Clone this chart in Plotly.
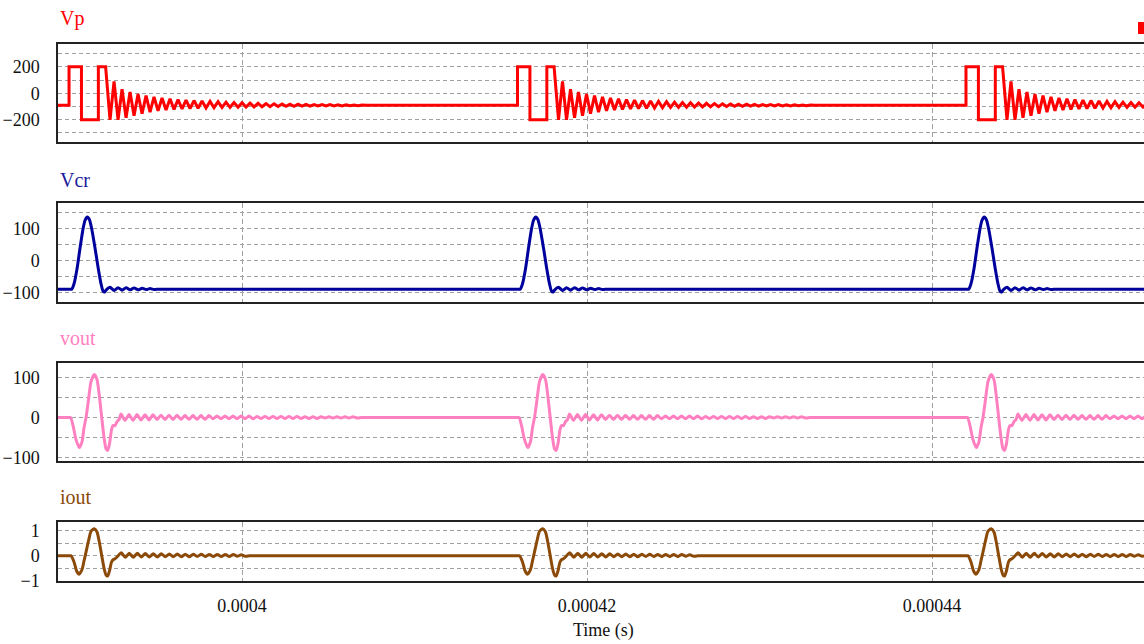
import plotly.graph_objects as go

# ---------------- data ----------------
x_range_us = [389.33, 452.29]
burst_starts_us = [389.97, 415.97, 441.97]
ring_half_us = 0.2319          # half period of the ringing

# Vp: pulse pair then ringing
vp_base = -90
vp_rel_us = [0.0, 0.0, 0.72, 0.72, 1.70, 1.70, 2.12]
vp_vals = [-90, 200, 200, -200, -200, 200, 200]
vp_ring_start_us = 2.377
vp_ring_troughs = [-200, -200, -185, -170, -155, -142, -133, -127, -122, -118, -115, -113,
                   -111, -109, -107, -106, -105, -104, -103, -102, -101, -100, -99, -98,
                   -97, -97, -96, -96, -95, -95, -94, -94]
vp_ring_peaks = [90, 30, 10, -5, -18, -28, -36, -42, -47, -51, -55, -58,
                 -61, -64, -67, -70, -72, -74, -76, -78, -80, -81, -82, -83,
                 -84, -85, -86, -86, -87, -87, -88, -88]

# Vcr: bell-shaped pulse then small ripple
vcr_base = -89
vcr_rel_us = [0.157, 0.29, 0.464, 0.638, 0.812, 0.928, 1.061, 1.188, 1.333, 1.507,
              1.681, 1.855, 1.971, 2.058, 2.145]
vcr_vals = [-89, -72, -25, 40, 100, 127, 137, 128, 95, 40, -20, -72, -95, -98, -92]
vcr_ring_start_us = 2.38
vcr_ring_peaks = [-83, -84, -84, -85, -86, -87]
vcr_ring_troughs = [-93, -92, -91, -91, -90, -90]

# vout
vout_base = 0
vout_rel_us = [0.099, 0.232, 0.406, 0.597, 0.754, 0.870, 0.986, 1.130, 1.275, 1.467,
               1.623, 1.768, 1.896, 2.029, 2.145, 2.243, 2.348, 2.464, 2.551, 2.667,
               2.783, 2.899]
vout_vals = [0, -20, -55, -75, -60, -25, 0, 45, 90, 108, 95, 50, 0, -50, -78, -82, -65,
             -30, -20, -20, -10, -5]
vout_ring_start_us = 3.014
vout_ring_peaks = [9, 8, 8, 7, 7, 6, 6, 6, 5, 5, 5, 5, 4, 4, 4, 4, 4, 3, 3, 3, 3, 3, 3,
                   2, 2, 2, 2, 2, 2, 2]
vout_ring_troughs = [-7, -7, -6, -6, -5, -5, -5, -4, -4, -4, -4, -3, -3, -3, -3, -3, -3,
                     -2, -2, -2, -2, -2, -2, -2, -2, -1, -1, -1, -1, -1]

# iout
iout_base = 0
iout_rel_us = [0.116, 0.29, 0.435, 0.58, 0.754, 0.87, 0.986, 1.13, 1.275, 1.467, 1.623,
               1.768, 1.896, 2.029, 2.145, 2.243, 2.348, 2.464, 2.57, 2.667, 2.783]
iout_vals = [0, -0.25, -0.6, -0.74, -0.55, -0.2, 0.15, 0.6, 0.98, 1.08, 0.95, 0.5, 0.0,
             -0.5, -0.77, -0.81, -0.6, -0.25, -0.15, -0.12, -0.05]
iout_ring_start_us = 3.03
iout_ring_peaks = [0.12, 0.10, 0.10, 0.09, 0.08, 0.08, 0.07, 0.07, 0.06, 0.06, 0.06,
                   0.05, 0.05, 0.05, 0.05, 0.04]
iout_ring_troughs = [-0.06, -0.06, -0.05, -0.05, -0.05, -0.04, -0.04, -0.04, -0.04,
                     -0.03, -0.03, -0.03, -0.03, -0.03, -0.02, -0.02]

x_tick_vals = [0.0004, 0.00042, 0.00044]
x_tick_text = ["0.0004", "0.00042", "0.00044"]


# ---------------- build traces ----------------
def interleave(a, b):
    out = []
    for p, q in zip(a, b):
        out += [p, q]
    return out


GUARD = 0.05  # short flat hold so the smoothed line stays flat between bursts


def build(rel_t, vals, ring_start, ring_vals, base):
    xmin, xmax = x_range_us
    xs, ys = [xmin * 1e-6], [base]
    tail_end = None
    for s in burst_starts_us:
        pts_t = [rel_t[0] - GUARD] + list(rel_t)
        pts_v = [base] + list(vals)
        for i, v in enumerate(ring_vals):
            pts_t.append(ring_start + i * ring_half_us)
            pts_v.append(v)
        end = ring_start + len(ring_vals) * ring_half_us
        pts_t += [end, end + GUARD]
        pts_v += [base, base]
        for t, v in zip(pts_t, pts_v):
            xs.append((s + t) * 1e-6)
            ys.append(v)
        tail_end = s + pts_t[-1]
    if tail_end < xmax:
        xs.append(xmax * 1e-6)
        ys.append(base)
    return xs, ys


vp_x, vp_y = build(vp_rel_us, vp_vals, vp_ring_start_us,
                   interleave(vp_ring_troughs, vp_ring_peaks), vp_base)
vcr_x, vcr_y = build(vcr_rel_us, vcr_vals, vcr_ring_start_us,
                     interleave(vcr_ring_peaks, vcr_ring_troughs), vcr_base)
vout_x, vout_y = build(vout_rel_us, vout_vals, vout_ring_start_us,
                       interleave(vout_ring_peaks, vout_ring_troughs), vout_base)
iout_x, iout_y = build(iout_rel_us, iout_vals, iout_ring_start_us,
                       interleave(iout_ring_peaks, iout_ring_troughs), iout_base)

C_VP = "#ff0000"
C_VCR = "#00009c"
C_VOUT = "#ff80c0"
C_IOUT = "#8b4a08"
LW = 3

fig = go.Figure()
fig.add_trace(go.Scatter(x=vp_x, y=vp_y, mode="lines", line=dict(color=C_VP, width=LW),
                         xaxis="x", yaxis="y", showlegend=False))
fig.add_trace(go.Scatter(x=vcr_x, y=vcr_y, mode="lines",
                         line=dict(color=C_VCR, width=LW, shape="spline", smoothing=0.6),
                         xaxis="x2", yaxis="y2", showlegend=False))
fig.add_trace(go.Scatter(x=vout_x, y=vout_y, mode="lines",
                         line=dict(color=C_VOUT, width=LW, shape="spline", smoothing=0.6),
                         xaxis="x3", yaxis="y3", showlegend=False))
fig.add_trace(go.Scatter(x=iout_x, y=iout_y, mode="lines",
                         line=dict(color=C_IOUT, width=LW, shape="spline", smoothing=0.6),
                         xaxis="x4", yaxis="y4", showlegend=False))

H = 644.0
def py(px):
    return 1 - px / H

def dom(top_px, bot_px):
    return [py(bot_px), py(top_px)]

L = 58
W = 1144 - L
def pxx(px):
    return (px - L) / W

FONT = "Liberation Serif"
GRID = "#a0a0a0"
DASH = "4px,3px"

def xaxis(anchor, labels):
    return dict(range=[x_range_us[0] * 1e-6, x_range_us[1] * 1e-6], anchor=anchor,
                domain=[0, 1], tickvals=x_tick_vals,
                ticktext=x_tick_text if labels else ["", "", ""],
                showticklabels=labels, showgrid=True, gridcolor=GRID, griddash="5px,3px",
                gridwidth=1, zeroline=False, showline=True, mirror=True,
                linecolor="#222222", linewidth=1.5, ticks="", ticklabelstandoff=8,
                automargin=False,
                tickfont=dict(family=FONT, size=18, color="#111"))

def yaxis(anchor, domain, rng, tickvals, minor_dtick):
    return dict(domain=domain, range=rng, anchor=anchor, tickvals=tickvals,
                showgrid=True, gridcolor=GRID, griddash=DASH, gridwidth=1,
                minor=dict(dtick=minor_dtick, showgrid=True, gridcolor=GRID,
                           griddash=DASH, gridwidth=1, ticks=""),
                zeroline=False, showline=True, mirror=False, linecolor="#222222",
                linewidth=1.5, ticks="", ticklabelstandoff=13, automargin=False,
                tickfont=dict(family=FONT, size=18, color="#111"))

fig.update_layout(
    width=1144, height=644,
    margin=dict(l=L, r=0, t=0, b=0),
    paper_bgcolor="white", plot_bgcolor="white",
    font=dict(family=FONT),
    xaxis=xaxis("y", False),
    xaxis2=xaxis("y2", False),
    xaxis3=xaxis("y3", False),
    xaxis4=xaxis("y4", True),
    yaxis=yaxis("x", dom(44, 142), [-368, 372], [-200, 0, 200], 100),
    yaxis2=yaxis("x2", dom(203, 302), [-129, 181], [-100, 0, 100], 50),
    yaxis3=yaxis("x3", dom(363, 461), [-108.5, 136.5], [-100, 0, 100], 50),
    yaxis4=yaxis("x4", dom(522, 581), [-1.01, 1.35], [-1, 0, 1], 0.5),
)
fig.update_xaxes(matches="x")

annos = [("Vp", C_VP, 18), ("Vcr", "#1a1a9c", 180), ("vout", C_VOUT, 338), ("iout", C_IOUT, 497)]
for txt, col, ypx in annos:
    fig.add_annotation(text=txt, x=pxx(58), y=py(ypx), xref="paper", yref="paper",
                       xanchor="left", yanchor="middle", showarrow=False,
                       font=dict(family=FONT, size=20, color=col))
fig.add_annotation(text="Time (s)", x=pxx(603), y=py(630), xref="paper",
                   yref="paper", xanchor="center", yanchor="middle", showarrow=False,
                   font=dict(family=FONT, size=18, color="#111"))
fig.add_shape(type="rect", xref="paper", yref="paper",
              x0=pxx(1138), x1=pxx(1146), y0=py(34), y1=py(22),
              fillcolor=C_VP, line=dict(width=0))

fig.write_html("out.html", config={"displayModeBar": False},
               post_script="document.body.style.margin='0';document.body.style.overflow='hidden';")
